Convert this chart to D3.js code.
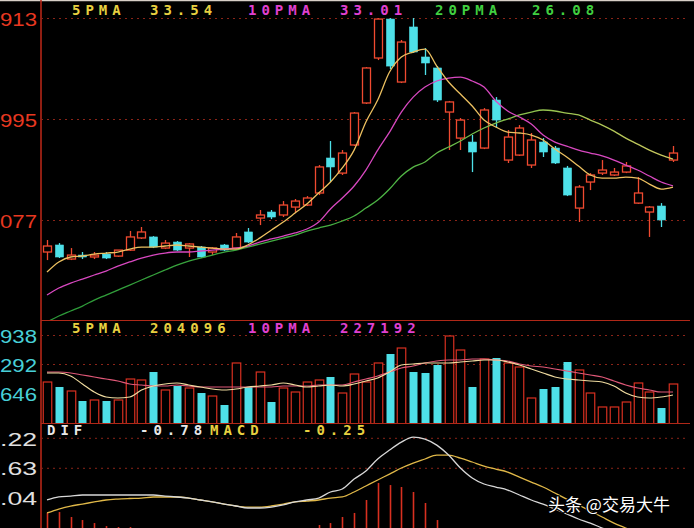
<!DOCTYPE html>
<html><head><meta charset="utf-8">
<script src="https://cdn.jsdelivr.net/npm/d3@7"></script>
<style>html,body{margin:0;padding:0;background:#000;overflow:hidden}</style>
</head><body><svg id="c" width="694" height="528"></svg>
<script>
// ---------- DATA ----------
const open  = [16.25,16.87,15.63,15.98,15.81,16.07,15.89,16.42,17.49,17.58,16.60,17.13,16.60,16.69,16.25,16.87,16.60,18.02,19.25,19.78,19.52,20.22,20.40,21.46,24.55,23.22,25.70,29.41,33.38,36.82,31.26,36.12,33.47,32.50,28.61,26.31,25.96,25.43,29.67,24.37,24.81,23.93,25.96,25.43,23.67,20.13,22.43,23.22,23.05,23.31,20.57,19.78,20.31,24.37];
const close = [16.78,15.81,15.98,15.81,15.98,15.72,16.42,17.58,18.02,16.69,17.04,16.42,16.96,15.81,16.60,16.42,17.58,17.13,19.52,19.34,20.40,20.75,21.02,23.76,23.76,24.99,28.52,32.50,36.82,32.67,34.79,33.91,32.94,29.67,29.50,27.90,25.08,28.79,27.90,26.40,27.20,26.14,25.08,24.11,21.28,21.99,23.05,23.49,23.31,23.85,21.46,20.22,19.08,24.99];
const high  = [17.31,17.04,16.60,16.25,16.25,16.25,16.42,18.11,18.46,17.66,17.31,17.22,17.04,16.78,16.69,16.96,17.93,18.37,19.96,19.96,20.75,20.93,21.19,23.93,26.05,25.26,28.61,32.58,36.91,36.91,34.97,36.91,34.26,32.67,29.59,28.08,26.58,28.96,29.93,27.02,27.46,26.76,26.31,25.61,23.85,22.16,23.22,24.37,23.67,24.20,22.87,20.31,20.57,25.61];
const low   = [15.54,15.72,15.54,15.63,15.63,15.63,15.81,16.34,17.40,16.60,16.51,16.34,15.81,15.72,15.98,16.34,16.51,17.04,18.63,19.16,19.34,19.69,20.31,21.28,22.43,23.05,25.61,29.32,33.20,32.41,31.17,33.82,31.88,29.50,25.26,25.26,23.31,25.34,27.20,24.11,24.73,23.67,24.64,24.02,21.19,18.90,21.72,23.05,22.96,23.22,20.49,17.58,18.46,24.20];
const ma5   = [14.48,15.37,15.81,15.90,16.07,16.16,16.25,16.51,16.69,16.69,16.78,16.87,16.78,16.69,16.60,16.51,16.51,16.87,17.48,18.19,18.90,19.69,20.49,21.46,22.43,23.67,25.25,27.73,29.67,32.14,33.47,33.91,34.17,32.67,31.26,30.20,29.14,27.90,27.29,26.84,26.76,26.58,26.14,25.34,24.64,23.84,23.05,22.78,22.78,22.87,22.78,22.25,21.81,21.99];
const ma10  = [12.45,13.07,13.51,13.86,14.22,14.57,15.01,15.37,15.72,15.98,16.16,16.25,16.25,16.34,16.42,16.51,16.60,16.78,17.13,17.40,17.66,17.93,18.28,18.90,20.05,21.02,22.08,23.49,25.25,26.84,28.61,29.93,30.82,31.35,31.61,31.70,31.35,30.82,29.58,28.70,28.17,27.55,26.58,25.96,25.61,25.25,24.99,24.73,24.37,23.93,23.49,22.96,22.43,22.08];
const ma20  = [10.07,10.60,11.04,11.48,12.01,12.45,12.89,13.33,13.78,14.22,14.66,15.10,15.45,15.72,15.98,16.25,16.42,16.69,16.95,17.22,17.48,17.75,18.10,18.37,18.63,18.99,19.43,20.13,20.84,21.81,22.96,23.75,24.20,24.99,25.52,26.05,26.67,27.20,27.64,27.99,28.35,28.61,28.79,28.70,28.52,28.35,27.90,27.46,26.93,26.31,25.78,25.25,24.81,24.46];
const volume = [138800,121500,107600,72900,76400,72900,76400,149200,145800,173500,111100,124900,118000,100600,90200,59000,204800,121500,173500,69400,118000,104100,138800,145800,156200,100600,166600,138800,204800,236000,256800,173500,170100,197800,298500,249900,121500,218600,222100,204800,190900,83300,114500,121500,208200,180500,100600,52100,52100,69400,135400,104100,48600,131900];
const volMa5  = [170100,170100,159700,131900,104100,86800,83300,86800,111100,124900,131900,135400,128400,121500,114500,111100,114500,121500,124900,128400,135400,128400,121500,124900,128400,124900,131900,142300,152700,173500,197800,201300,204800,204800,204800,208200,211700,215200,215200,208200,197800,183900,170100,156200,149200,145800,142300,138800,124900,100600,86800,83300,86800,93700];
const volMa10 = [173500,173500,170100,163100,156200,149200,142300,131900,128400,124900,124900,128400,124900,121500,121500,121500,121500,121500,121500,121500,124900,124900,124900,128400,128400,128400,138800,149200,159700,173500,187400,194400,204800,211700,215200,215200,218600,218600,215200,211700,201300,194400,190900,183900,177000,170100,163100,156200,142300,128400,118000,111100,104100,104100];
const dif  = [2.85,3.11,3.19,3.28,3.28,3.28,3.28,3.28,3.28,3.28,3.19,3.11,3.02,2.85,2.68,2.50,2.33,2.16,2.16,2.24,2.42,2.68,2.85,3.02,3.54,3.80,4.66,5.35,6.39,7.16,7.85,8.28,8.11,7.59,6.73,5.61,4.75,4.23,3.97,3.71,3.28,2.85,2.50,2.07,1.64,1.21,0.86,0.43,0.09,-0.26,-0.60,-0.86,-1.12,-1.38];
const dea  = [1.73,2.07,2.33,2.50,2.68,2.85,2.93,2.98,3.02,3.11,3.11,3.11,3.02,2.85,2.68,2.50,2.33,2.24,2.24,2.33,2.50,2.68,2.76,2.85,3.02,3.11,3.54,4.06,4.58,5.09,5.61,6.04,6.39,6.73,6.73,6.47,6.13,5.78,5.52,5.26,4.83,4.40,3.97,3.45,2.93,2.42,1.90,1.38,0.86,0.43,0.00,-0.35,-0.69,-1.04];
const macdHist = [1.73,1.81,1.38,1.12,0.86,0.60,0.52,0.52,0.43,0.35,0.26,0.17,0.09,0.00,-0.09,-0.17,-0.26,-0.26,-0.17,-0.09,0.09,0.26,0.43,0.69,0.86,1.38,1.73,2.85,4.32,4.14,3.97,3.54,2.59,1.12,0.00,-0.69,-1.29,-1.55,-1.73,-1.90,-2.16,-2.33,-2.42,-2.59,-2.59,-2.59,-2.42,-2.33,-2.16,-1.90,-1.73,-1.55,-1.29,-1.04];
const priceTicks  = [36.913, 27.995, 19.077];
const volumeTicks = [301938, 201292, 100646];
const macdTicks   = [8.22, 5.63, 3.04];
const priceLegend  = [["5PMA","33.54"],["10PMA","33.01"],["20PMA","26.08"]];
const volumeLegend = [["5PMA","204096"],["10PMA","227192"]];
const macdLegend   = [["DIF","-0.78"],["MACD","-0.25"]];
const watermark = "头条 @交易大牛";

// ---------- DRAW ----------
const W=694,H=528, AX=41;
const svg=d3.select("#c");
svg.append("rect").attr("width",W).attr("height",H).attr("fill","#000");
const defs=svg.append("defs");
[["clipMain",0,320],["clipVol",321,423],["clipMacd",424,528]].forEach(([id,y0,y1])=>{
  defs.append("clipPath").attr("id",id).append("rect").attr("x",AX+1).attr("y",y0).attr("width",W-AX).attr("height",y1-y0);
});
const g20=defs.append("linearGradient").attr("id","g20").attr("gradientUnits","userSpaceOnUse")
  .attr("x1",41).attr("x2",680).attr("y1",0).attr("y2",0);
[[0,"#2a9838"],[0.55,"#4cb444"],[0.8,"#98c450"],[1,"#d0c860"]].forEach(([o,c])=>g20.append("stop").attr("offset",o).attr("stop-color",c));

const n=open.length;
const x=d3.scaleLinear().domain([0,n-1]).range([47,673]);
const yP=d3.scaleLinear().domain([19.077,36.913]).range([220,18]);
const yV=d3.scaleLinear().domain([0,301938]).range([422,335]);
const yM=d3.scaleLinear().domain([0,8.22]).range([533,437.8]);

const RED="#f04a30", CYAN="#4ee0e8", GRID="#8a2418";

// frame lines
svg.append("line").attr("x1",0).attr("x2",W).attr("y1",0.5).attr("y2",0.5).attr("stroke","#d8d0c8").attr("stroke-width",1.5);
svg.append("line").attr("x1",AX).attr("x2",AX).attr("y1",0).attr("y2",H).attr("stroke","#c02818").attr("stroke-width",1.5);
[320.5,423.5].forEach(y=>svg.append("line").attr("x1",AX).attr("x2",690).attr("y1",y).attr("y2",y).attr("stroke","#b02818").attr("stroke-width",1.2));

// grids via axes
function grid(scale,ticks,extra){
  const g=svg.append("g").attr("transform",`translate(${AX},0)`)
    .call(d3.axisRight(scale).tickValues(ticks.concat(extra||[])).tickSize(W-AX-8).tickFormat(""));
  g.select(".domain").remove();
  g.selectAll("line").attr("stroke",GRID).attr("stroke-dasharray","2,4").attr("stroke-width",1);
}
grid(yP,priceTicks);
grid(yV,volumeTicks.slice(0,2));
grid(yM,macdTicks.slice(0,2));

// left tick labels via axes
function labels(scale,ticks,fmt,color,dy){
  const g=svg.append("g").attr("transform",`translate(${AX},0)`)
    .call(d3.axisLeft(scale).tickValues(ticks).tickSize(0).tickPadding(0).tickFormat(v=>fmt(v).slice(-3)));
  g.select(".domain").remove();
  g.selectAll("text").attr("x",-AX).attr("text-anchor","start").attr("dy",dy)
    .attr("fill",color).attr("font-family","Liberation Sans, Arial, sans-serif").attr("font-size",18)
    .attr("textLength",37).attr("lengthAdjust","spacingAndGlyphs");
}
labels(yP,priceTicks,d3.format(".3f"),"#e83820","0.42em");
labels(yV,volumeTicks,d3.format("d"),"#48d0d8","0.4em");
labels(yM,macdTicks,d3.format(".2f"),"#e0e0e0","0.4em");

// ---- main panel ----
const main=svg.append("g").attr("clip-path","url(#clipMain)");
const idx=d3.range(n);
const cw=8;
idx.forEach(i=>{
  const up=close[i]>=open[i];
  const c=up?RED:CYAN;
  const top=yP(Math.max(open[i],close[i])), bot=yP(Math.min(open[i],close[i]));
  const xc=Math.round(x(i))+0.5;
  main.append("line").attr("x1",xc).attr("x2",xc).attr("y1",yP(high[i])).attr("y2",top).attr("stroke",c).attr("stroke-width",1.3);
  main.append("line").attr("x1",xc).attr("x2",xc).attr("y1",bot).attr("y2",yP(low[i])).attr("stroke",c).attr("stroke-width",1.3);
  main.append("rect").attr("x",xc-cw/2).attr("y",top).attr("width",cw).attr("height",Math.max(1.5,bot-top))
    .attr("fill",up?"#000":CYAN).attr("stroke",c).attr("stroke-width",up?1.3:0.6);
});
const lineP=arr=>d3.line().x((d,i)=>x(i)).y(d=>yP(d)).curve(d3.curveMonotoneX)(arr);
main.append("path").attr("d",lineP(ma20)).attr("fill","none").attr("stroke","url(#g20)").attr("stroke-width",1.3);
main.append("path").attr("d",lineP(ma10)).attr("fill","none").attr("stroke","#d848c0").attr("stroke-width",1.3);
main.append("path").attr("d",lineP(ma5)).attr("fill","none").attr("stroke","#ecc060").attr("stroke-width",1.3);

// legends
function legend(items,colors,y){
  const xs=[[72,150],[248,340],[435,532]];
  items.forEach((it,k)=>{
    [0,1].forEach(j=>svg.append("text").attr("x",xs[k][j]).attr("y",y).text(it[j])
      .attr("fill",colors[k]).attr("font-family","DejaVu Sans Mono, monospace").attr("font-weight","bold")
      .attr("font-size",14).attr("letter-spacing",5));
  });
}
legend(priceLegend,["#e8d040","#e040d0","#40d040"],15);
legend(volumeLegend,["#e8d040","#e040d0"],333);

// ---- volume panel ----
const vol=svg.append("g").attr("clip-path","url(#clipVol)");
idx.forEach(i=>{
  const up=close[i]>=open[i];
  const xc=Math.round(x(i))+0.5;
  const vw=up?8.5:8;
  vol.append("rect").attr("x",xc-vw/2).attr("y",yV(volume[i])).attr("width",vw).attr("height",yV(0)-yV(volume[i])+2)
    .attr("fill",up?"#000":CYAN).attr("stroke",up?"#d83020":"none").attr("stroke-width",1.2);
});
const lineV=arr=>d3.line().x((d,i)=>x(i)).y(d=>yV(d)).curve(d3.curveMonotoneX)(arr);
vol.append("path").attr("d",lineV(volMa10)).attr("fill","none").attr("stroke","#e05878").attr("stroke-width",1.2);
vol.append("path").attr("d",lineV(volMa5)).attr("fill","none").attr("stroke","#f0dca0").attr("stroke-width",1.2);

// ---- macd panel ----
const mac=svg.append("g").attr("clip-path","url(#clipMacd)");
idx.forEach(i=>{
  const xc=Math.round(x(i))+0.5;
  mac.append("line").attr("x1",xc).attr("x2",xc).attr("y1",yM(0)).attr("y2",yM(macdHist[i]))
    .attr("stroke",macdHist[i]>=0?"#d83020":CYAN).attr("stroke-width",1.6);
});
const lineM=arr=>d3.line().x((d,i)=>x(i)).y(d=>yM(d)).curve(d3.curveMonotoneX)(arr);
mac.append("path").attr("d",lineM(dea)).attr("fill","none").attr("stroke","#e0b848").attr("stroke-width",1.3);
mac.append("path").attr("d",lineM(dif)).attr("fill","none").attr("stroke","#d8d8d8").attr("stroke-width",1.3);

const mxs=[[47,140],[210,303]], mcol=["#e8e8e8","#e8d040"];
macdLegend.forEach((it,k)=>[0,1].forEach(j=>svg.append("text").attr("x",mxs[k][j]).attr("y",435).text(it[j])
  .attr("fill",mcol[k]).attr("font-family","DejaVu Sans Mono, monospace").attr("font-weight","bold")
  .attr("font-size",14).attr("letter-spacing",5)));

// watermark
svg.append("text").attr("x",548).attr("y",511).text(watermark)
  .attr("fill","#ffffff").attr("stroke","#000").attr("stroke-width",2.5).attr("paint-order","stroke")
  .attr("font-family","Noto Sans CJK SC, sans-serif").attr("font-size",17);
</script></body></html>
